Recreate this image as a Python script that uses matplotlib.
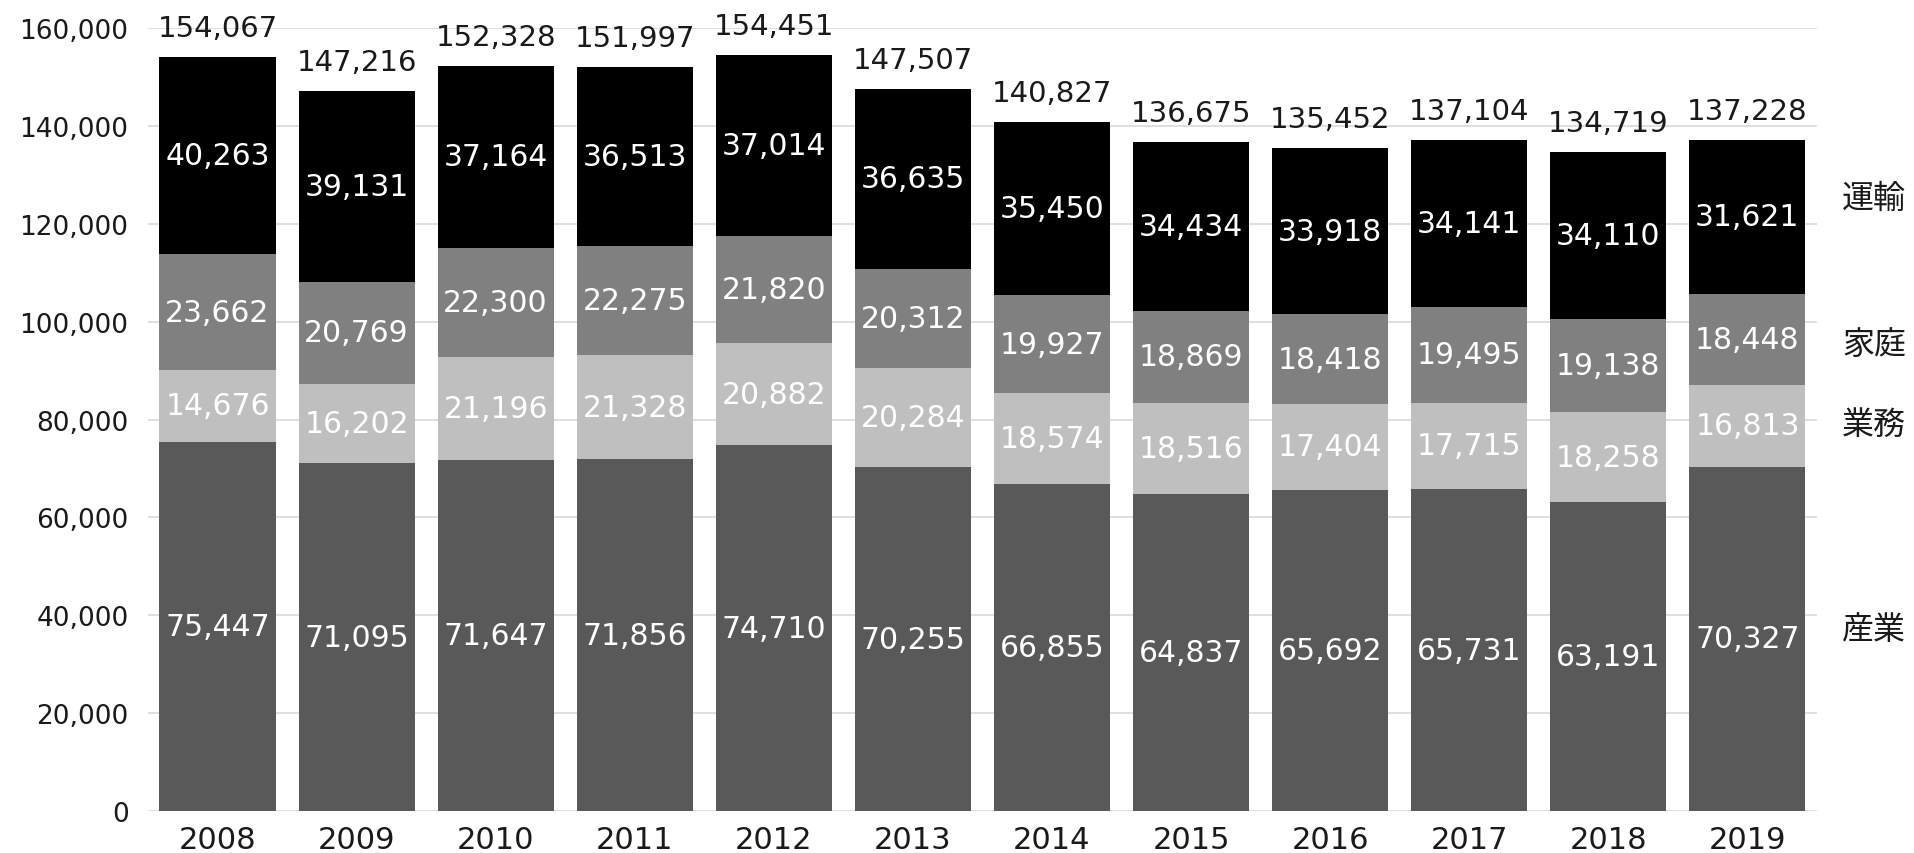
import matplotlib
matplotlib.use("Agg")
import matplotlib.pyplot as plt
import numpy as np

years = ["2008", "2009", "2010", "2011", "2012", "2013", "2014", "2015", "2016", "2017", "2018", "2019"]
sangyo = [75447, 71095, 71647, 71856, 74710, 70255, 66855, 64837, 65692, 65731, 63191, 70327]
gyomu = [14676, 16202, 21196, 21328, 20882, 20284, 18574, 18516, 17404, 17715, 18258, 16813]
katei = [23662, 20769, 22300, 22275, 21820, 20312, 19927, 18869, 18418, 19495, 19138, 18448]
unyu = [40263, 39131, 37164, 36513, 37014, 36635, 35450, 34434, 33918, 34141, 34110, 31621]
totals = [154067, 147216, 152328, 151997, 154451, 147507, 140827, 136675, 135452, 137104, 134719, 137228]
series_names = ["産業", "業務", "家庭", "運輸"]
series = [sangyo, gyomu, katei, unyu]
colors = ["#595959", "#bfbfbf", "#808080", "#000000"]
yticks = [0, 20000, 40000, 60000, 80000, 100000, 120000, 140000, 160000]

plt.rcParams['font.family'] = ['DejaVu Sans', 'Noto Sans CJK JP']

fig = plt.figure(figsize=(19.14, 8.54), dpi=100)
ax = fig.add_axes([0.0773, 0.0492, 0.872, 0.9168])

x = np.arange(len(years))
bottom = np.zeros(len(years))
for name, vals, c in zip(series_names, series, colors):
    vals = np.array(vals, dtype=float)
    ax.bar(x, vals, bottom=bottom, width=0.835, color=c, zorder=2)
    for xi, b, v in zip(x, bottom, vals):
        ax.text(xi, b + v / 2, f"{int(v):,}", ha="center", va="center",
                color="white", fontsize=21.5, zorder=3)
    bottom = bottom + vals

for xi, top, t in zip(x, bottom, totals):
    ax.annotate(f"{t:,}", (xi, top), xytext=(0, 15), textcoords="offset points",
                ha="center", va="baseline", fontsize=21, color="#1a1a1a")

# Series labels at right, next to the last bar's segments
label_nudge = {"産業": 7, "業務": 1, "家庭": -3.5, "運輸": 14}
last_bottom = 0
for name, vals in zip(series_names, series):
    v = vals[-1]
    ax.annotate(name, (len(years) - 0.5, last_bottom + v / 2),
                xytext=(18, label_nudge[name]),
                textcoords="offset points", ha="left", va="center",
                fontsize=23, color="#1a1a1a", family=['Noto Sans CJK JP'],
                annotation_clip=False)
    last_bottom += v

ax.set_xlim(-0.5, len(years) - 0.5)
ax.set_ylim(0, 160000)
ax.set_yticks(yticks)
ax.set_yticklabels([f"{v:,}" for v in yticks], fontsize=19, color="#1a1a1a")
ax.set_xticks(x)
ax.set_xticklabels(years, fontsize=22, color="#1a1a1a")
ax.tick_params(axis="both", length=0)
ax.tick_params(axis="y", pad=14)
ax.tick_params(axis="x", pad=10)
ax.grid(axis="y", color="#d9d9d9", linewidth=1.2, zorder=0)
for s in ax.spines.values():
    s.set_visible(False)

fig.savefig("out.png", dpi=100)
